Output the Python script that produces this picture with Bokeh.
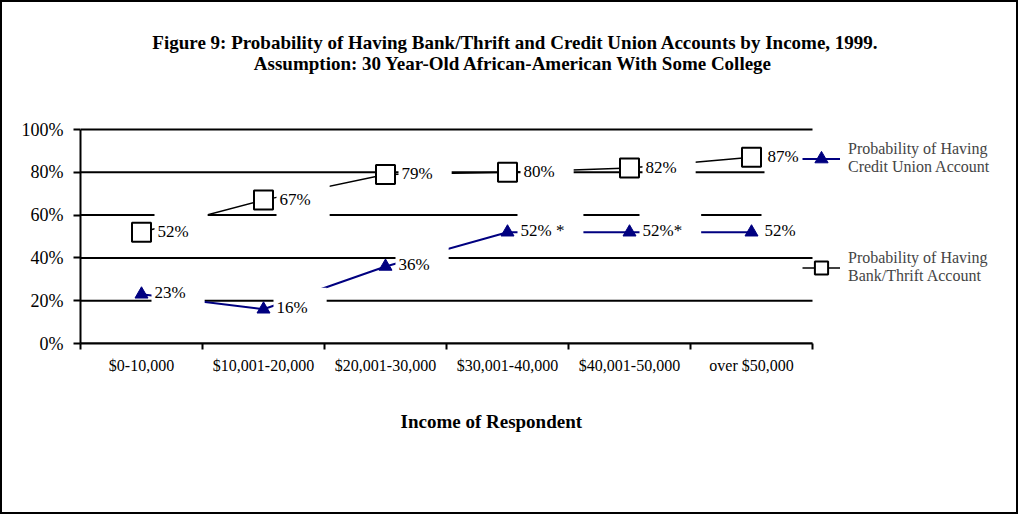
from bokeh.plotting import figure
from bokeh.models import (Range1d, FixedTicker, PrintfTickFormatter, Title,
                          Label, Legend, LegendItem)
from bokeh.core.properties import value
from bokeh.embed import file_html
from bokeh.resources import INLINE

# ---- data ----
categories = ["$0-10,000", "$10,001-20,000", "$20,001-30,000",
              "$30,001-40,000", "$40,001-50,000", "over $50,000"]
bank_pct = [52, 67, 79, 80, 82, 87]
cu_pct = [23, 16, 36, 52, 52, 52]
bank_labels = ["52%", "67%", "79%", "80%", "82%", "87%"]
cu_labels = ["23%", "16%", "36%", "52% *", "52%*", "52%"]
y_ticks = [0, 20, 40, 60, 80, 100]

title_1 = "Figure 9: Probability of Having Bank/Thrift and Credit Union Accounts by Income, 1999."
title_2 = "Assumption: 30 Year-Old African-American With Some College"
x_title = "Income of Respondent"
legend_cu = "Probability of Having\nCredit Union Account"
legend_bank = "Probability of Having\nBank/Thrift Account"

FONT = "Liberation Serif"
NAVY = "#000080"

n = len(categories)
x_pos = [i + 0.5 for i in range(n)]
boundaries = list(range(n + 1))

# layout (pixels): category area 732 px wide inside a 940 px wide frame
# (frame extends under titles / legend); 100 % = 214 px, frame height 341 px
X_END = n * 940 / 732
Y_END = 100 * 341 / 214

p = figure(width=1018, height=514,
           x_range=Range1d(0, X_END), y_range=Range1d(0, Y_END),
           output_backend="svg", toolbar_location=None,
           min_border_left=78, min_border_right=0,
           min_border_top=0, min_border_bottom=173)
p.outline_line_color = None
p.background_fill_color = "white"
p.border_fill_color = "white"
p.styles = {"border": "2px solid black"}

# x axis: labels at category centres, tick marks at boundaries
xa = p.xaxis[0]
xa.bounds = (0, n)
xa.ticker = FixedTicker(ticks=x_pos, minor_ticks=boundaries)
xa.major_label_overrides = {x: c for x, c in zip(x_pos, categories)}
xa.major_tick_out = 0
xa.major_tick_in = 0
xa.minor_tick_out = 6
xa.minor_tick_in = 0
xa.minor_tick_line_color = "black"
xa.minor_tick_line_width = 2
xa.axis_line_color = "black"
xa.axis_line_width = 2
xa.major_label_standoff = 7
xa.major_label_text_font = FONT
xa.major_label_text_font_size = "16px"
xa.major_label_text_color = "black"

ya = p.yaxis[0]
ya.bounds = (0, 100)
ya.ticker = FixedTicker(ticks=y_ticks, minor_ticks=[])
ya.formatter = PrintfTickFormatter(format="%d%%")
ya.major_tick_out = 7
ya.major_tick_in = 0
ya.major_tick_line_width = 2
ya.major_tick_line_color = "black"
ya.minor_tick_out = 0
ya.minor_tick_in = 0
ya.axis_line_color = "black"
ya.axis_line_width = 2
ya.major_label_standoff = 10
ya.major_label_text_font = FONT
ya.major_label_text_font_size = "18px"
ya.major_label_text_color = "black"

p.xgrid.visible = False
p.ygrid.visible = False

# horizontal gridlines over the category area only
p.segment(x0=[0] * len(y_ticks), x1=[n] * len(y_ticks), y0=y_ticks, y1=y_ticks,
          line_color="black", line_width=2, level="underlay")

# series lines
bank_line = p.line(x_pos, bank_pct, line_color="black", line_width=1.5)
cu_line = p.line(x_pos, cu_pct, line_color=NAVY, line_width=2)

# data labels with white boxes (cover lines / gridlines as in the original)
p.text(x_pos, bank_pct, text=bank_labels, x_offset=13, y_offset=-1,
       text_font=value(FONT), text_font_size="17px", text_color="black",
       text_align="left", text_baseline="middle",
       background_fill_color="white", padding=(3, 19, 10, 10),
       level="annotation")
p.text(x_pos, cu_pct, text=cu_labels, x_offset=10, y_offset=-2,
       text_font=value(FONT), text_font_size="17px", text_color="black",
       text_align="left", text_baseline="middle",
       background_fill_color="white", padding=(3, 19, 10, 10),
       level="annotation")

# markers
bank_mk = p.scatter(x_pos, bank_pct, marker="square", size=19,
                    fill_color="white", line_color="black", line_width=2,
                    level="overlay")
cu_mk = p.scatter(x_pos, cu_pct, marker="triangle", size=13,
                  fill_color=NAVY, line_color=NAVY, level="overlay")

# legend (inside the frame, right of the category area)
legend = Legend(items=[
    LegendItem(label=value(legend_cu), renderers=[cu_line, cu_mk]),
    LegendItem(label=value(legend_bank), renderers=[bank_line, bank_mk]),
], location=(722, 58))
legend.glyph_width = 38
legend.glyph_height = 33
legend.label_standoff = 8
legend.padding = 0
legend.margin = 0
legend.spacing = 73
legend.border_line_color = None
legend.background_fill_alpha = 0
legend.label_text_font = FONT
legend.label_text_font_size = "16px"
legend.label_text_line_height = 1.15
p.add_layout(legend)

# titles (inside the frame, in screen px from the frame's bottom-left)
p.add_layout(Label(x=435, y=301, x_units="screen", y_units="screen",
                   text=title_1, text_align="center", text_baseline="middle",
                   text_font=FONT, text_font_style="bold",
                   text_font_size="19px", text_color="black"))
p.add_layout(Label(x=433, y=280, x_units="screen", y_units="screen",
                   text=title_2, text_align="center", text_baseline="middle",
                   text_font=FONT, text_font_style="bold",
                   text_font_size="19px", text_color="black"))

# x axis title (below the axis)
tx = Title(text=x_title, align="left", offset=320, standoff=65,
           text_font=FONT, text_font_style="bold", text_font_size="19px",
           text_color="black")
p.add_layout(tx, "below")

open("out.html", "w").write(file_html(p, INLINE))
